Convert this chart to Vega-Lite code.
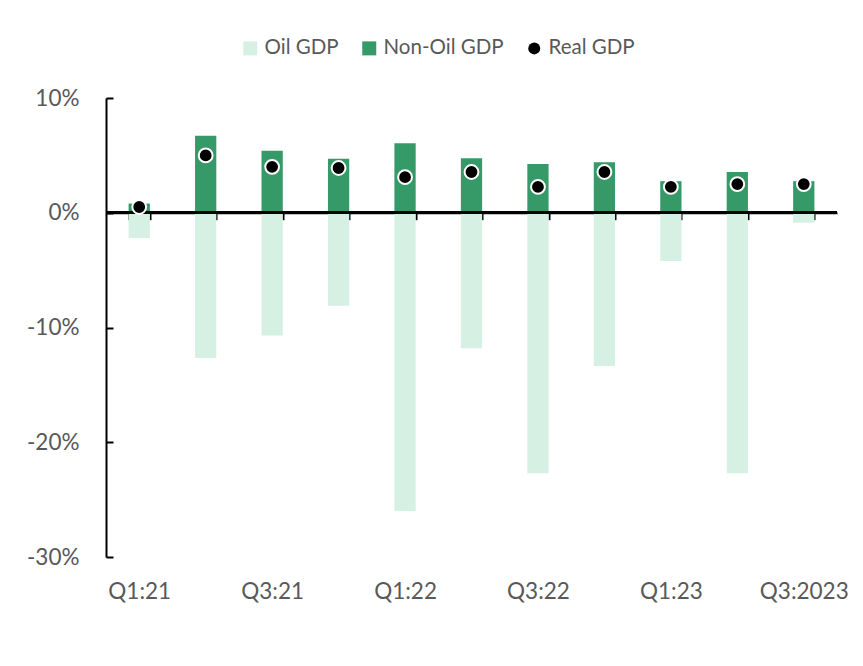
{
  "$schema": "https://vega.github.io/schema/vega-lite/v6.json",
  "autosize": "none",
  "width": 731,
  "height": 459,
  "padding": {"left": 106, "top": 98, "right": 26, "bottom": 109},
  "background": "white",
  "config": {
    "view": {"stroke": null},
    "font": "Lato",
    "axis": {"labelFont": "Lato", "labelFontSize": 22.5, "labelColor": "#595959", "grid": false, "title": null}
  },
  "data": {
    "values": [
      {"q": "Q1:21", "series": "Oil GDP", "value": -2.2},
      {"q": "Q2:21", "series": "Oil GDP", "value": -12.65},
      {"q": "Q3:21", "series": "Oil GDP", "value": -10.7},
      {"q": "Q4:21", "series": "Oil GDP", "value": -8.1},
      {"q": "Q1:22", "series": "Oil GDP", "value": -26.0},
      {"q": "Q2:22", "series": "Oil GDP", "value": -11.8},
      {"q": "Q3:22", "series": "Oil GDP", "value": -22.7},
      {"q": "Q4:22", "series": "Oil GDP", "value": -13.35},
      {"q": "Q1:23", "series": "Oil GDP", "value": -4.2},
      {"q": "Q2:23", "series": "Oil GDP", "value": -22.7},
      {"q": "Q3:2023", "series": "Oil GDP", "value": -0.87},
      {"q": "Q1:21", "series": "Non-Oil GDP", "value": 0.8},
      {"q": "Q2:21", "series": "Non-Oil GDP", "value": 6.7},
      {"q": "Q3:21", "series": "Non-Oil GDP", "value": 5.4},
      {"q": "Q4:21", "series": "Non-Oil GDP", "value": 4.7},
      {"q": "Q1:22", "series": "Non-Oil GDP", "value": 6.05},
      {"q": "Q2:22", "series": "Non-Oil GDP", "value": 4.75},
      {"q": "Q3:22", "series": "Non-Oil GDP", "value": 4.25},
      {"q": "Q4:22", "series": "Non-Oil GDP", "value": 4.4},
      {"q": "Q1:23", "series": "Non-Oil GDP", "value": 2.75},
      {"q": "Q2:23", "series": "Non-Oil GDP", "value": 3.55},
      {"q": "Q3:2023", "series": "Non-Oil GDP", "value": 2.75},
      {"q": "Q1:21", "series": "Real GDP", "value": 0.5},
      {"q": "Q2:21", "series": "Real GDP", "value": 5.0},
      {"q": "Q3:21", "series": "Real GDP", "value": 4.0},
      {"q": "Q4:21", "series": "Real GDP", "value": 3.9},
      {"q": "Q1:22", "series": "Real GDP", "value": 3.1},
      {"q": "Q2:22", "series": "Real GDP", "value": 3.55},
      {"q": "Q3:22", "series": "Real GDP", "value": 2.25},
      {"q": "Q4:22", "series": "Real GDP", "value": 3.55},
      {"q": "Q1:23", "series": "Real GDP", "value": 2.25},
      {"q": "Q2:23", "series": "Real GDP", "value": 2.5},
      {"q": "Q3:2023", "series": "Real GDP", "value": 2.5}
    ]
  },
  "encoding": {
    "x": {
      "field": "q",
      "type": "nominal",
      "sort": null,
      "scale": {"paddingInner": 0.68, "paddingOuter": 0.34},
      "axis": {
        "orient": "bottom",
        "offset": -344.3,
        "labelAngle": 0,
        "domainColor": "black",
        "domainWidth": 2,
        "tickColor": "black",
        "tickWidth": 2,
        "tickSize": 7,
        "tickBand": "extent",
        "labelPadding": 361,
        "labelExpr": "indexof(['Q1:21','Q3:21','Q1:22','Q3:22','Q1:23','Q3:2023'], datum.value) >= 0 ? datum.label : ''"
      }
    },
    "y": {
      "field": "value",
      "type": "quantitative",
      "scale": {"domain": [-30, 10], "nice": false, "zero": false},
      "axis": {
        "values": [-30, -20, -10, 0, 10],
        "labelExpr": "datum.value + '%'",
        "domainColor": "black",
        "domainWidth": 2,
        "tickColor": "black",
        "tickWidth": 2,
        "tickSize": -7,
        "labelPadding": 34
      }
    },
    "color": {
      "field": "series",
      "type": "nominal",
      "scale": {"domain": ["Oil GDP", "Non-Oil GDP", "Real GDP"], "range": ["#d6f1e4", "#359a67", "#000000"]},
      "legend": {
        "title": null,
        "orient": "none",
        "legendX": 134,
        "legendY": -60,
        "direction": "horizontal",
        "labelFont": "Lato",
        "labelFontSize": 20.5,
        "labelColor": "#595959",
        "symbolSize": 196,
        "symbolStrokeWidth": 0,
        "columnPadding": 20,
        "labelOffset": 4,
        "encode": {
          "symbols": {"update": {"shape": {"signal": "datum.value === 'Real GDP' ? 'circle' : 'square'"}, "size": {"signal": "datum.value === 'Real GDP' ? 144 : 196"}}}
        }
      }
    }
  },
  "layer": [
    {
      "transform": [{"filter": "datum.series !== 'Real GDP'"}],
      "mark": {"type": "bar"},
      "encoding": {"y": {"field": "value", "type": "quantitative", "stack": null}}
    },
    {
      "mark": {"type": "rule", "color": "black", "strokeWidth": 2.5},
      "encoding": {"y": {"datum": 0}, "x": null, "color": {"value": "black"}}
    },
    {
      "transform": [{"filter": "datum.series === 'Real GDP'"}],
      "mark": {"type": "point", "filled": true, "shape": "circle", "size": 190, "stroke": "white", "strokeWidth": 2, "strokeOpacity": 1, "opacity": 1},
      "encoding": {"stroke": {"value": "white"}}
    }
  ]
}
